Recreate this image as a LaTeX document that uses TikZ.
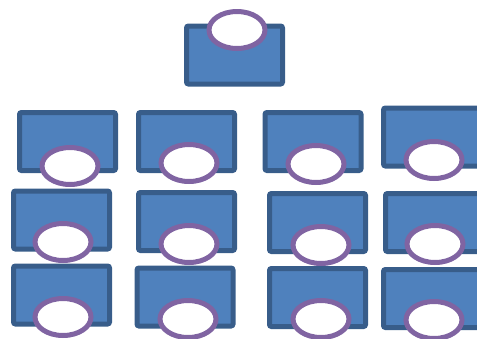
\documentclass[tikz,border=0pt]{standalone}
\usetikzlibrary{shapes.geometric}
\definecolor{boxfill}{HTML}{4F81BD}
\definecolor{boxline}{HTML}{385D8A}
\definecolor{headline}{HTML}{8064A2}
\begin{document}
\begin{tikzpicture}[x=1pt,y=-1pt]

        \useasboundingbox (0,0) rectangle (477,338);

        \begin{scope}[every node/.style={rectangle,draw=boxline,fill=boxfill,line width=5pt,rounded corners=2pt,minimum width=96pt,minimum height=58pt,inner sep=0pt}]
          \node (0)  at (234.5,55)  {};
          \node (1)  at (67.5,141.5) {};
          \node (2)  at (186.5,141.5) {};
          \node (3)  at (313,141.5) {};
          \node (4)  at (431.5,137) {};
          \node (5)  at (61.5,220) {};
          \node (6)  at (186.5,221.5) {};
          \node (7)  at (317.5,222.5) {};
          \node (8)  at (433.5,222.5) {};
          \node (9)  at (61.5,295) {};
          \node (10) at (185,297) {};
          \node (11) at (317.5,297.5) {};
          \node (12) at (431.5,298.5) {};
        \end{scope}

        \begin{scope}[every node/.style={ellipse,draw=headline,fill=white,line width=5pt,minimum width=56pt,minimum height=37pt,inner sep=0pt}]
          \node (h0)  at (237,30)  {};
          \node (h1)  at (70,166)  {};
          \node (h2)  at (189,163) {};
          \node (h3)  at (316,164) {};
          \node (h4)  at (434,160) {};
          \node (h5)  at (63,242)  {};
          \node (h6)  at (189,244) {};
          \node (h7)  at (321,245) {};
          \node (h8)  at (435,244) {};
          \node (h9)  at (63,317)  {};
          \node (h10) at (188,319) {};
          \node (h11) at (321,319) {};
          \node (h12) at (434,320) {};
        \end{scope}

      \end{tikzpicture}
\end{document}
